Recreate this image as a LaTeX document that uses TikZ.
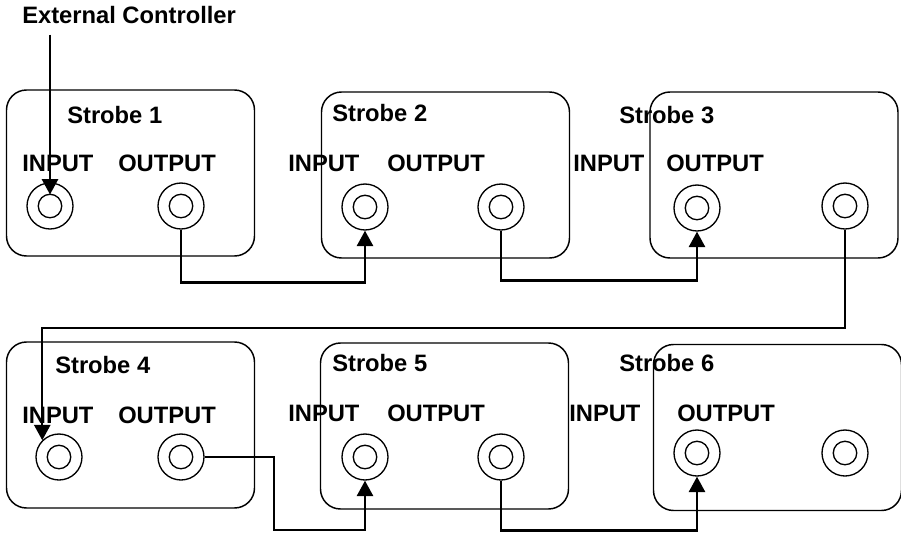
\documentclass[tikz,border=0pt]{standalone}
\usepackage{fontspec}
\setmainfont{Liberation Sans}
\usetikzlibrary{arrows.meta,calc}

\begin{document}
\begin{tikzpicture}[
  x=0.75pt, y=-0.75pt,
  font=\bfseries\fontsize{17.8}{20}\selectfont,
  unit/.style={draw, rounded corners=15pt, line width=1.1pt,
               minimum width=186pt, minimum height=124.5pt},
  jack/.style={draw, circle, line width=1pt, minimum size=34.5pt, inner sep=0,
               path picture={\draw[line width=1pt] (path picture bounding box.center) circle (8.8pt);}},
  lbl/.style={anchor=west, inner sep=0},
  wire/.style={line width=1.8pt},
  feed/.style={wire, -{Triangle[length=11.5pt, width=12pt]}},
]

\useasboundingbox (0,0) rectangle (901,533);

% ---- strobe units ----
\foreach \n/\x/\y in {1/130.5/173, 2/445.5/175, 3/774/175,
                      4/130.5/425, 5/444.5/426, 6/777.5/427.5}{
  \node[unit] (box\n) at (\x,\y) {};
}

% ---- unit names ----
\foreach \n/\x/\y in {1/67/115, 2/332/113, 3/619/115,
                      4/55/365, 5/332/363, 6/619/363}{
  \node[lbl] (name\n) at (\x,\y) {Strobe \n};
}

% ---- port labels ----
\foreach \n/\x/\y in {1/22/163, 2/288/163, 3/573/163,
                      4/22/415, 5/288/413, 6/569/413}{
  \node[lbl] (inlbl\n) at (\x,\y) {INPUT};
}
\foreach \n/\x/\y in {1/118/163, 2/387/163, 3/666/163,
                      4/118/415, 5/387/413, 6/677/413}{
  \node[lbl] (outlbl\n) at (\x,\y) {OUTPUT};
}

% ---- jacks (left = in, right = out) ----
\foreach \n/\x/\y in {1/50/206, 2/365/207, 3/697/208,
                      4/59/457, 5/365/457, 6/697/453}{
  \node[jack] (jin\n) at (\x,\y) {};
}
\foreach \n/\x/\y in {1/181/206, 2/501/207, 3/845/206,
                      4/181/457, 5/501/457, 6/845/453}{
  \node[jack] (jout\n) at (\x,\y) {};
}

% ---- controller feed ----
\node[lbl] (ext) at (22,15) {External Controller};
\draw[feed, shorten <=8pt, shorten >=8.6pt] (ext.south -| jin1) -- (jin1.center);

% ---- daisy chain, top row ----
\draw[feed] (jout1.south) -- ++(0,53) -| (jin2.south);
\draw[feed] (jout2.south) -- ++(0,50) -| (jin3.south);

% ---- wrap to bottom row ----
\coordinate (wrap) at (0,328);
\draw[feed] (jout3.south) |- (jin4.north west |- wrap) -- (jin4.north west);

% ---- daisy chain, bottom row ----
\coordinate (dip) at (274,530);
\draw[feed] (jout4.east) -| (dip) -| (jin5.south);
\draw[feed] (jout5.south) -- ++(0,50) -| (jin6.south);

\end{tikzpicture}
\end{document}
